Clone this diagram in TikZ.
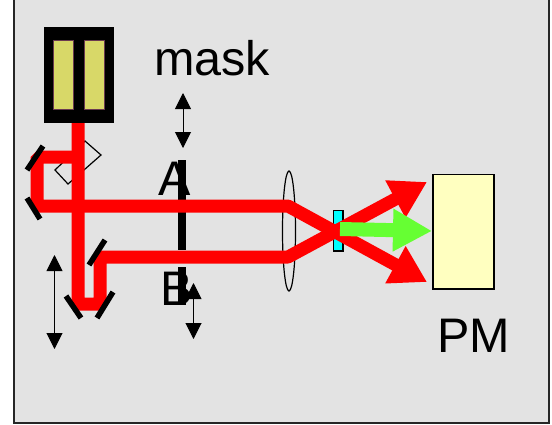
\documentclass[tikz,border=0pt]{standalone}
\usepackage{fontspec}
\setmainfont{Liberation Sans}
\usetikzlibrary{arrows.meta}

\definecolor{panelgray}{HTML}{E3E3E3}
\definecolor{beamred}{HTML}{FF0000}
\definecolor{beamgreen}{HTML}{66FF33}
\definecolor{pmyellow}{HTML}{FFFFC0}
\definecolor{slotyellow}{HTML}{D8D868}
\definecolor{slotedge}{HTML}{6A3A50}
\definecolor{cellcyan}{HTML}{00FFFF}

\tikzset{
    label/.style={font=\fontsize{48.5}{52}\selectfont, anchor=base west, inner sep=0pt, outer sep=0pt},
    beam/.style={beamred, line width=13pt, line join=bevel},
    mirror/.style={black, line width=5.5pt},
    bar/.style={black, line width=7.5pt},
    shift arrow/.style={black, line width=1pt, {Triangle[length=16pt,width=16pt]}-{Triangle[length=16pt,width=16pt]}},
    slot/.style={fill=slotyellow, draw=slotedge, line width=1pt},
}

\begin{document}
\begin{tikzpicture}[x=1pt, y=-1pt]
        \useasboundingbox (0,0) rectangle (552,424);

        % Panel.
        \fill[panelgray] (14,0) rectangle (549,423);
        \draw[black!85, line width=2pt] (14,0) -- (14,423) -- (549,423) -- (549,0);

        % Mask picture.
        \fill[black] (44,27) rectangle (114,123);
        \draw[slot] (53.5,40.5) rectangle (73.5,109.5);
        \draw[slot] (84,40.5) rectangle (104.5,109.5);

        % Beam points.
        \coordinate (source) at (78,123);
        \coordinate (split) at (78,157);
        \coordinate (topcorner) at (37,157);
        \coordinate (upturn) at (37,206);
        \coordinate (upperlens) at (288,206);
        \coordinate (bottomleft) at (78,304);
        \coordinate (bottomright) at (100,304);
        \coordinate (lowturn) at (100,257);
        \coordinate (lowerlens) at (288,257);
        \coordinate (upperend) at (427,282);
        \coordinate (lowerend) at (427,182);
        \coordinate (greenstart) at (340,229);
        \coordinate (greenend) at (432,231);

        % Optics under the beam.
        \draw[black, line width=1.2pt] (85,141) -- (101,155) -- (68,184) -- (55,170) -- cycle;
        \draw[bar] (182,160) -- (182,250);
        \draw[bar] (182,267) -- (182,305);
        \draw[black, line width=1.2pt] (289,231) ellipse (6.5 and 60);
        \draw[black, line width=1.5pt, fill=cellcyan] (333.5,210.5) rectangle (343,251);
        \draw[black, line width=1.8pt, fill=pmyellow] (433,174.5) rectangle (494,289);

        % Beams.
        \draw[beam, -{Triangle[length=36pt,width=40pt]}] (split) -- (topcorner) -- (upturn) -- (upperlens) -- (upperend);
        \draw[beam, -{Triangle[length=36pt,width=40pt]}] (source) -- (bottomleft) -- (bottomright) -- (lowturn) -- (lowerlens) -- (lowerend);
        \draw[beamgreen, line width=14pt, -{Triangle[length=39pt,width=40pt]}] (greenstart) -- (greenend);

        % Mirrors.
        \draw[mirror] (43,146) -- (27,170);
        \draw[mirror] (27,198) -- (40,219);
        \draw[mirror] (105,240) -- (89,265);
        \draw[mirror] (113,292) -- (97,318);
        \draw[mirror] (66,296) -- (81,318);

        % Shift arrows.
        \draw[shift arrow] (183,93) -- (183,148);
        \draw[shift arrow] (54.5,255) -- (54.5,349);
        \draw[shift arrow] (193.5,283) -- (193.5,339);

        % Labels.
        \node[label] (masklabel) at (154,75) {mask};
        \node[label] (alabel) at (158,195) {A};
        \node[label] (blabel) at (160,305) {B};
        \node[label] (pmlabel) at (437,352) {PM};
\end{tikzpicture}
\end{document}
